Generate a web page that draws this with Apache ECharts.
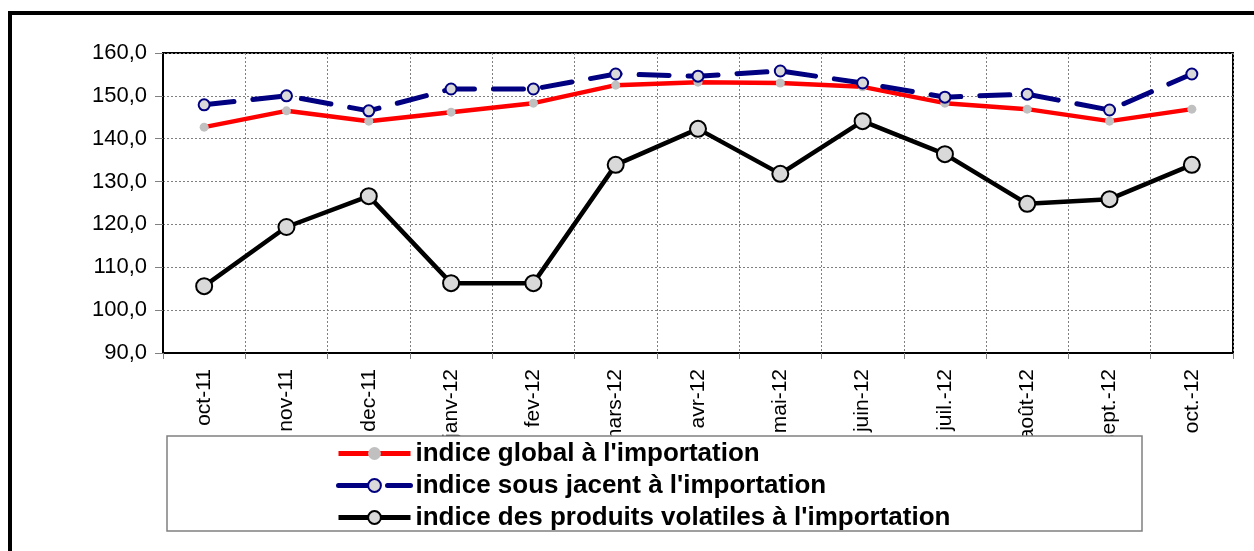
<!DOCTYPE html>
<html>
<head>
<meta charset="utf-8">
<script src="https://cdn.jsdelivr.net/npm/echarts@6/dist/echarts.min.js"></script>
<style>html,body{margin:0;padding:0;background:#fff;}#c{width:1254px;height:551px;}</style>
</head>
<body>
<div id="c"></div>
<script>
const categories = ['oct-11','nov-11','dec-11','janv-12','fev-12','mars-12','avr-12','mai-12','juin-12','juil.-12','août-12','sept.-12','oct.-12'];
const globalIdx = [142.7,146.5,144.1,146.2,148.3,152.5,153.2,153.0,152.1,148.3,146.9,144.1,146.9];
const sousJacent = [147.9,150.0,146.5,151.6,151.6,155.1,154.6,155.8,153.0,149.7,150.4,146.7,155.1];
const volatiles = [105.6,119.4,126.6,106.3,106.3,133.9,142.3,131.8,144.1,136.4,124.8,125.9,133.9];
const seriesNames = ["indice global à l'importation","indice sous jacent à l'importation","indice des produits volatiles à l'importation"];
const yTicks = {min: 90, max: 160, interval: 10};

const FONT = '"Liberation Sans", Arial, sans-serif';
const chart = echarts.init(document.getElementById('c'), null, {renderer: 'canvas'});
chart.setOption({
  animation: false,
  backgroundColor: '#fff',
  grid: {left: 163, top: 53, right: 21, bottom: 198, show: true, borderColor: '#000', borderWidth: 2, backgroundColor: 'transparent'},
  xAxis: {
    type: 'category', data: categories, boundaryGap: true,
    axisLine: {show: true, lineStyle: {color: '#000', width: 2}},
    axisTick: {show: true, length: 6, lineStyle: {color: '#808080'}},
    axisLabel: {rotate: 90, interval: 0, margin: 16, fontFamily: FONT, fontSize: 21, color: '#000'},
    splitLine: {show: true, lineStyle: {color: '#808080', type: [2, 2], width: 1}}
  },
  yAxis: {
    type: 'value', min: yTicks.min, max: yTicks.max, interval: yTicks.interval,
    axisLine: {show: true, lineStyle: {color: '#000', width: 2}},
    axisTick: {show: true, length: 8, lineStyle: {color: '#808080'}},
    axisLabel: {margin: 16, fontFamily: FONT, fontSize: 22, color: '#000',
      formatter: v => v.toFixed(1).replace('.', ',')},
    splitLine: {show: true, lineStyle: {color: '#808080', type: [2, 2], width: 1}}
  },
  legend: {
    orient: 'vertical', left: 331, top: 435, itemGap: 5, itemWidth: 72, itemHeight: 16, z: 60,
    lineStyle: {width: 5},
    textStyle: {fontFamily: FONT, fontSize: 26, fontWeight: 'bold', color: '#000', lineHeight: 27},
    data: seriesNames
  },
  graphic: [
    {type: 'rect', z: 50, shape: {x: 167, y: 436, width: 975, height: 95},
     style: {fill: '#fff', stroke: '#808080', lineWidth: 1.5}},
    {type: 'rect', z: 50, shape: {x: 10, y: 13, width: 1300, height: 600},
     style: {fill: 'none', stroke: '#000', lineWidth: 4}}
  ],
  series: [
    {name: seriesNames[0], type: 'line', data: globalIdx, z: 3,
     lineStyle: {color: '#ff0000', width: 4.5},
     symbol: 'circle', symbolSize: 9,
     itemStyle: {color: '#c0c0c0', borderWidth: 0}},
    {name: seriesNames[1], type: 'line', data: sousJacent, z: 4,
     lineStyle: {color: '#000080', width: 5, type: [30, 19], cap: 'round'},
     symbol: 'circle', symbolSize: 11,
     itemStyle: {color: '#d9d9d9', borderColor: '#000080', borderWidth: 2}},
    {name: seriesNames[2], type: 'line', data: volatiles, z: 5,
     lineStyle: {color: '#000', width: 4.5},
     symbol: 'circle', symbolSize: 16,
     itemStyle: {color: '#d9d9d9', borderColor: '#000', borderWidth: 2}}
  ]
});
</script>
</body>
</html>
